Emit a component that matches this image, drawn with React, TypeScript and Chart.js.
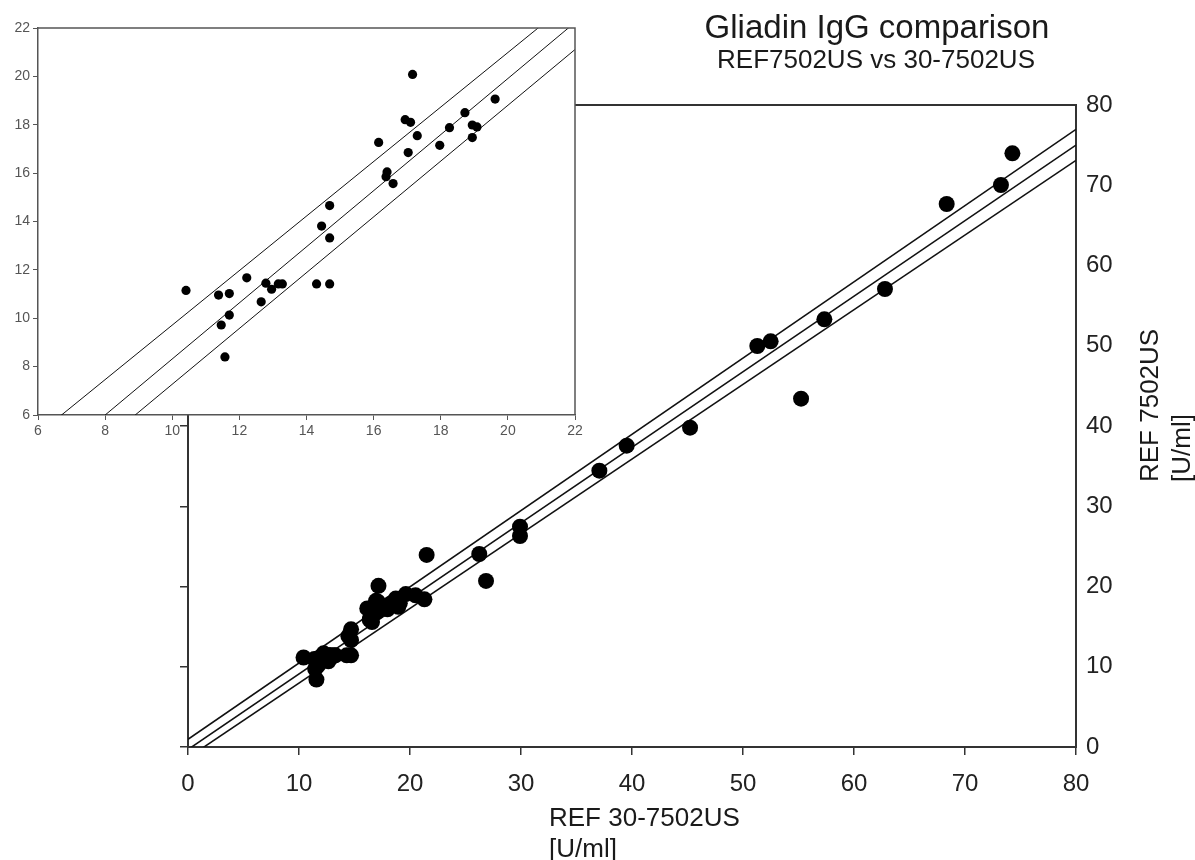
import React, { useEffect, useRef } from "react";
import { Chart, registerables } from "chart.js";

Chart.register(...registerables);

// Low-range measurements (also shown in the inset)
const lowX = [10.41, 11.38, 11.7, 11.46, 11.7, 11.57, 12.22, 12.65, 12.79, 12.96, 13.16, 13.28, 14.3, 14.69, 14.45, 14.69, 14.69, 16.15, 16.4, 16.37, 16.58, 16.94, 17.1, 17.16, 17.03, 17.3, 17.97, 18.26, 18.72, 18.94, 19.08, 18.94, 19.62];
const lowY = [11.15, 10.96, 11.02, 9.72, 10.13, 8.4, 11.67, 10.68, 11.45, 11.2, 11.42, 11.42, 11.42, 11.42, 13.81, 14.66, 13.32, 17.27, 16.05, 15.85, 15.57, 18.21, 18.1, 20.08, 16.85, 17.55, 17.15, 17.88, 18.5, 17.99, 17.91, 17.47, 19.06];

// Remaining measurements (main plot only)
const highX = [20.5, 21.3, 21.5, 26.24, 26.85, 29.91, 29.91, 37.06, 39.52, 45.23, 51.29, 52.49, 55.23, 57.33, 62.79, 68.35, 73.24, 74.27];
const highY = [18.9, 18.4, 23.93, 24.05, 20.69, 27.45, 26.29, 34.43, 37.55, 39.79, 49.97, 50.55, 43.41, 53.29, 57.07, 67.66, 70.03, 73.98];

// Regression line and confidence bands, main plot
const mainLineX = [0, 80];
const mainUpperY = [0.96, 76.97];
const mainFitY = [-0.31, 75.0];
const mainLowerY = [-1.34, 73.1];

// Regression line and confidence bands, inset
const insetLineX = [6, 22];
const insetUpperY = [5.21, 23.24];
const insetFitY = [3.68, 22.23];
const insetLowerY = [2.66, 21.11];

const mainTicks = [0, 10, 20, 30, 40, 50, 60, 70, 80];
const insetTicks = [6, 8, 10, 12, 14, 16, 18, 20, 22];

const titleText = "Gliadin IgG comparison";
const subtitleText = "REF7502US vs 30-7502US";
const xTitle = ["REF 30-7502US", "[U/ml]"];
const yTitle = ["REF 7502US", "[U/ml]"];

const FONT = "'Liberation Sans', Arial, Helvetica, sans-serif";

const pts = (xs: number[], ys: number[]) => xs.map((x, i) => ({ x, y: ys[i] }));

export default function App() {
  const mainRef = useRef<HTMLCanvasElement>(null);
  const insetRef = useRef<HTMLCanvasElement>(null);

  useEffect(() => {
    Chart.defaults.font.family = FONT;
    const lineDs = (xs: number[], ys: number[], w: number) => ({
      data: pts(xs, ys),
      showLine: true,
      pointRadius: 0,
      borderColor: "#111",
      borderWidth: w,
      fill: false,
    });

    const mainText = {
      id: "mainText",
      afterDraw(chart: any) {
        const ctx = chart.ctx;
        const ca = chart.chartArea;
        ctx.save();
        // top frame
        ctx.strokeStyle = "#333";
        ctx.lineWidth = 2;
        ctx.beginPath();
        ctx.moveTo(ca.left, ca.top);
        ctx.lineTo(ca.right, ca.top);
        ctx.stroke();
        ctx.fillStyle = "#1a1a1a";
        ctx.textAlign = "center";
        ctx.textBaseline = "alphabetic";
        ctx.font = `33px ${FONT}`;
        ctx.fillText(titleText, 877, 38);
        ctx.font = `26px ${FONT}`;
        ctx.fillText(subtitleText, 876, 68);
        ctx.textAlign = "left";
        ctx.font = `26px ${FONT}`;
        ctx.fillText(xTitle[0], 549, 826);
        ctx.fillText(xTitle[1], 549, 857);
        ctx.save();
        ctx.translate(1158, 482);
        ctx.rotate(-Math.PI / 2);
        ctx.fillText(yTitle[0], 0, 0);
        ctx.restore();
        ctx.save();
        ctx.translate(1190, 482);
        ctx.rotate(-Math.PI / 2);
        ctx.fillText(yTitle[1], 0, 0);
        ctx.restore();
        ctx.restore();
      },
    };

    const tickCb = (ticks: number[]) => (v: any) => (ticks.includes(Number(v)) ? String(v) : "");

    const main = new Chart(mainRef.current as HTMLCanvasElement, {
      type: "scatter",
      data: {
        datasets: [
          {
            data: pts([...lowX, ...highX], [...lowY, ...highY]),
            pointRadius: 8,
            pointBackgroundColor: "#000",
            pointBorderColor: "#000",
            pointBorderWidth: 0,
          },
          lineDs(mainLineX, mainUpperY, 1.6),
          lineDs(mainLineX, mainFitY, 1.6),
          lineDs(mainLineX, mainLowerY, 1.6),
        ] as any,
      },
      options: {
        responsive: false,
        animation: false,
        events: [],
        layout: { padding: { top: 105, left: 0, right: 0, bottom: 0 } },
        plugins: { legend: { display: false }, tooltip: { enabled: false }, title: { display: false } },
        scales: {
          x: {
            type: "linear",
            position: "bottom",
            min: 0,
            max: 80,
            afterFit: (s: any) => { s.height = 113; },
            ticks: { stepSize: 10, font: { size: 24 }, color: "#222", padding: 15, maxRotation: 0, autoSkip: false, callback: tickCb(mainTicks) },
            grid: { display: true, drawOnChartArea: false, drawTicks: true, tickLength: 8, color: "#333", lineWidth: 1.5 },
            border: { display: true, color: "#333", width: 2 },
          },
          y: {
            type: "linear",
            position: "right",
            min: 0,
            max: 80,
            afterFit: (s: any) => { s.width = 119; },
            ticks: { stepSize: 10, font: { size: 24 }, color: "#222", padding: 10, autoSkip: false, callback: tickCb(mainTicks) },
            grid: { display: true, drawOnChartArea: false, drawTicks: false, color: "#333" },
            border: { display: true, color: "#333", width: 2 },
          },
          yL: {
            type: "linear",
            position: "left",
            min: 0,
            max: 80,
            afterFit: (s: any) => { s.width = 188; },
            ticks: { stepSize: 10, display: false },
            grid: { display: true, drawOnChartArea: false, drawTicks: true, tickLength: 8, color: "#333", lineWidth: 1.5 },
            border: { display: true, color: "#333", width: 2 },
          },
        } as any,
      },
      plugins: [mainText],
    });

    const insetBg = {
      id: "insetBg",
      beforeDraw(chart: any) {
        const ca = chart.chartArea;
        const ctx = chart.ctx;
        ctx.save();
        ctx.fillStyle = "#fff";
        ctx.fillRect(ca.left, ca.top, ca.right - ca.left, ca.bottom - ca.top);
        ctx.restore();
      },
      afterDraw(chart: any) {
        const ca = chart.chartArea;
        const ctx = chart.ctx;
        ctx.save();
        ctx.strokeStyle = "#555";
        ctx.lineWidth = 1.5;
        ctx.beginPath();
        ctx.moveTo(ca.left, ca.top);
        ctx.lineTo(ca.right, ca.top);
        ctx.lineTo(ca.right, ca.bottom);
        ctx.stroke();
        ctx.restore();
      },
    };

    const inset = new Chart(insetRef.current as HTMLCanvasElement, {
      type: "scatter",
      data: {
        datasets: [
          {
            data: pts(lowX, lowY),
            pointRadius: 4.6,
            pointBackgroundColor: "#000",
            pointBorderColor: "#000",
            pointBorderWidth: 0,
          },
          lineDs(insetLineX, insetUpperY, 1),
          lineDs(insetLineX, insetFitY, 1),
          lineDs(insetLineX, insetLowerY, 1),
        ] as any,
      },
      options: {
        responsive: false,
        animation: false,
        events: [],
        layout: { padding: { top: 28, right: 25, left: 0, bottom: 0 } },
        plugins: { legend: { display: false }, tooltip: { enabled: false } },
        scales: {
          x: {
            type: "linear",
            min: 6,
            max: 22,
            afterFit: (s: any) => { s.height = 35; },
            ticks: { stepSize: 2, font: { size: 14 }, color: "#555", padding: 3, maxRotation: 0, autoSkip: false, callback: tickCb(insetTicks) },
            grid: { display: true, drawOnChartArea: false, drawTicks: true, tickLength: 5, color: "#555", lineWidth: 1 },
            border: { display: true, color: "#555", width: 1.5 },
          },
          y: {
            type: "linear",
            min: 6,
            max: 22,
            afterFit: (s: any) => { s.width = 38; },
            ticks: { stepSize: 2, font: { size: 14 }, color: "#555", padding: 3, autoSkip: false, callback: tickCb(insetTicks) },
            grid: { display: true, drawOnChartArea: false, drawTicks: true, tickLength: 5, color: "#555", lineWidth: 1 },
            border: { display: true, color: "#555", width: 1.5 },
          },
        } as any,
      },
      plugins: [insetBg],
    });

    return () => {
      main.destroy();
      inset.destroy();
    };
  }, []);

  return (
    <div style={{ position: "absolute", left: 0, top: 0, width: 1195, height: 860, background: "#fff", overflow: "hidden" }}>
      <canvas ref={mainRef} width={1195} height={860} style={{ position: "absolute", left: 0, top: 0 }} />
      <canvas ref={insetRef} width={600} height={450} style={{ position: "absolute", left: 0, top: 0 }} />
    </div>
  );
}
